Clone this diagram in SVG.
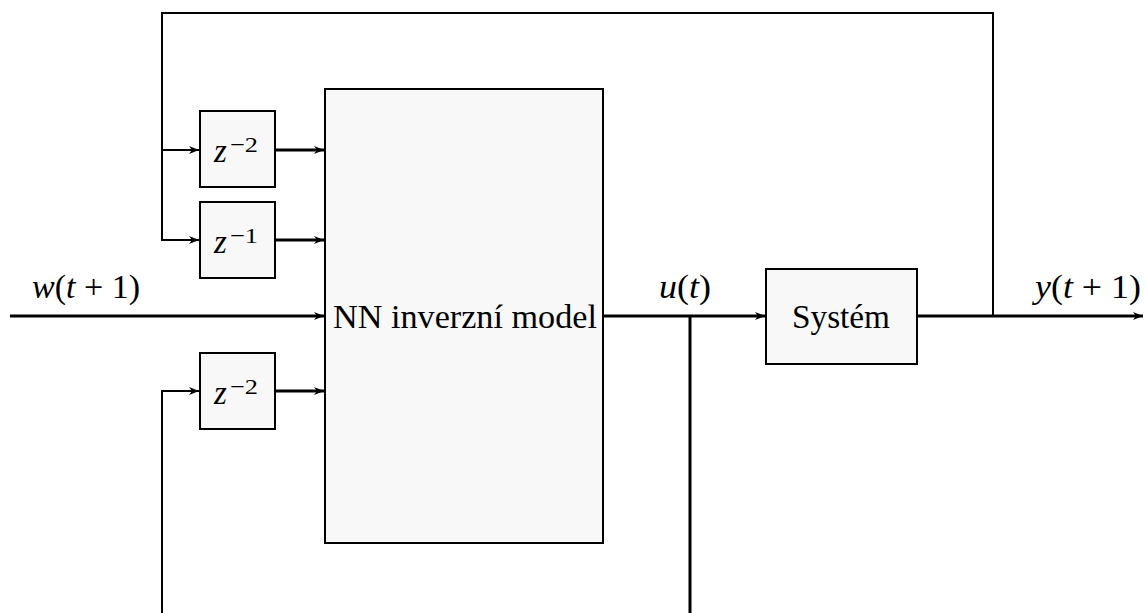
<svg xmlns="http://www.w3.org/2000/svg" width="1146" height="613" viewBox="0 0 1146 613">
<style>
.box{fill:#f8f8f8;stroke:#000;stroke-width:2}
.ln{fill:none;stroke:#000;stroke-width:2}
.th{fill:none;stroke:#000;stroke-width:3}
.t{font-family:"Liberation Serif","Times New Roman","DejaVu Serif",serif;font-size:33px;fill:#000}
.m{font-family:"Liberation Serif","Times New Roman","DejaVu Serif",serif;font-size:33px;fill:#000}
.i{font-style:italic}
.sup{font-family:"Liberation Serif","Times New Roman","DejaVu Serif",serif;font-size:22px;fill:#000}
</style>
<defs>
<marker id="a" viewBox="0 0 10 8" refX="10" refY="4" markerWidth="10" markerHeight="8" markerUnits="userSpaceOnUse" orient="auto">
<path d="M0,0 L10,4 L0,8 L3,4 Z" fill="#000"/>
</marker>
</defs>
<g id="connectors">
<path class="ln" d="M993,316 V13 H162 V240 H199" marker-end="url(#a)"/>
<path class="ln" d="M162,150 H199" marker-end="url(#a)"/>
<path class="ln" d="M162,613 V391 H199" marker-end="url(#a)"/>
<path class="th" d="M275,150 H324" marker-end="url(#a)"/>
<path class="th" d="M275,240 H324" marker-end="url(#a)"/>
<path class="th" d="M275,391 H324" marker-end="url(#a)"/>
<path class="th" d="M10,316 H324" marker-end="url(#a)"/>
<path class="th" d="M603,316 H765" marker-end="url(#a)"/>
<path class="th" d="M690,316 V613"/>
<path class="th" d="M917,316 H1143" marker-end="url(#a)"/>
</g>
<g id="z2top"><rect class="box" x="200" y="111" width="75" height="76"/><text x="214" y="162" class="m i">z</text><text x="230" y="152" class="sup" textLength="28" lengthAdjust="spacingAndGlyphs">−2</text></g>
<g id="z1"><rect class="box" x="200" y="202" width="75" height="76"/><text x="214" y="253" class="m i">z</text><text x="230" y="243" class="sup" textLength="28" lengthAdjust="spacingAndGlyphs">−1</text></g>
<g id="z2bot"><rect class="box" x="200" y="353" width="75" height="76"/><text x="214" y="404" class="m i">z</text><text x="230" y="394" class="sup" textLength="28" lengthAdjust="spacingAndGlyphs">−2</text></g>
<g id="nn"><rect class="box" x="325" y="89" width="278" height="454"/><text x="465" y="328" class="t" text-anchor="middle" textLength="264" lengthAdjust="spacingAndGlyphs">NN inverzní model</text></g>
<g id="sys"><rect class="box" x="766" y="269" width="151" height="95"/><text x="841" y="328" class="t" text-anchor="middle" textLength="98" lengthAdjust="spacingAndGlyphs">Systém</text></g>
<g id="labels">
<text x="86" y="298" class="m" text-anchor="middle" textLength="108" lengthAdjust="spacingAndGlyphs"><tspan class="i">w</tspan>(<tspan class="i">t</tspan> + 1)</text>
<text x="685" y="298" class="m" text-anchor="middle" textLength="52" lengthAdjust="spacingAndGlyphs"><tspan class="i">u</tspan>(<tspan class="i">t</tspan>)</text>
<text x="1088" y="298" class="m" text-anchor="middle" textLength="106" lengthAdjust="spacingAndGlyphs"><tspan class="i">y</tspan>(<tspan class="i">t</tspan> + 1)</text>
</g>
</svg>
